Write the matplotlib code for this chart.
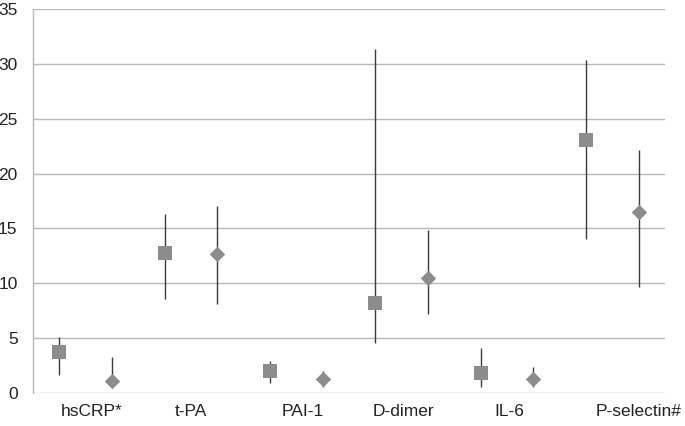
import matplotlib
matplotlib.use("Agg")
import matplotlib.pyplot as plt
import numpy as np

categories = ["hsCRP*", "t-PA", "PAI-1", "D-dimer", "IL-6", "P-selectin#"]
sq_vals = [3.76, 12.8, 2.03, 8.2, 1.79, 23.06]
sq_low = [1.64, 8.57, 0.94, 4.59, 0.52, 14.07]
sq_high = [5.1, 16.3, 2.92, 31.36, 4.07, 30.36]
di_vals = [1.09, 12.67, 1.28, 10.51, 1.25, 16.5]
di_low = [0.6, 8.08, 0.58, 7.2, 0.52, 9.63]
di_high = [3.28, 17.0, 2.03, 14.86, 2.4, 22.15]
yticks = [0, 5, 10, 15, 20, 25, 30, 35]

label_pos = [0.62, 2.50, 4.62, 6.54, 8.54, 10.99]

plt.rcParams['font.family'] = ['Liberation Sans', 'DejaVu Sans']

fig = plt.figure(figsize=(6.85, 4.26), dpi=100)
ax = fig.add_axes([0.048, 0.0775, 0.923, 0.9015])

n = len(categories)
xs_sq = np.arange(n) * 2
xs_di = np.arange(n) * 2 + 1

ax.vlines(xs_sq, sq_low, sq_high, color="#3a3a3a", lw=1.0, zorder=2)
ax.vlines(xs_di, di_low, di_high, color="#3a3a3a", lw=1.0, zorder=2)
ax.scatter(xs_sq, sq_vals, marker="s", s=105, color="#8c8c8c", zorder=3, linewidths=0)
ax.scatter(xs_di, di_vals, marker="D", s=62, color="#8c8c8c", zorder=3, linewidths=0)

ax.set_xlim(-0.5, 11.5)
ax.set_ylim(0, 35)
ax.set_yticks(yticks)
ax.set_yticklabels([str(t) for t in yticks], fontsize=12.5, color="#222222")
ax.set_xticks(label_pos)
ax.set_xticklabels(categories, fontsize=12.5, color="#222222")
ax.tick_params(axis="both", length=0)
ax.tick_params(axis="y", pad=11)
ax.tick_params(axis="x", pad=8)
ax.yaxis.grid(True, color="#b8b8b8", lw=1.0)
ax.set_axisbelow(True)
for s in ["top", "right", "bottom"]:
    ax.spines[s].set_visible(False)
ax.spines["left"].set_color("#b8b8b8")
ax.spines["left"].set_linewidth(1.0)

fig.savefig("out.png", dpi=100)
